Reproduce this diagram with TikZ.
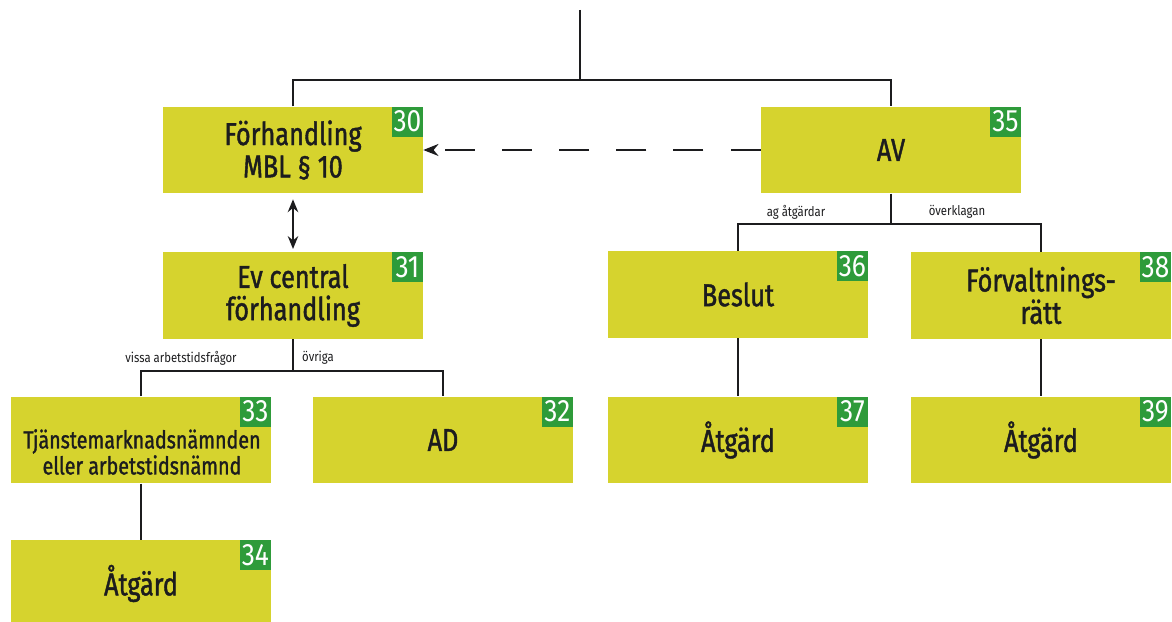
\documentclass[tikz,border=0pt]{standalone}
\usepackage{fontspec}
\setmainfont{Fira Sans}[FakeStretch=0.85]
\newfontfamily\boxfont{Fira Sans}[FakeStretch=0.8,FakeBold=1.3]
\usetikzlibrary{arrows.meta,positioning}
\definecolor{BoxYellow}{RGB}{214,211,46}
\definecolor{NrGreen}{RGB}{46,155,58}
\definecolor{InkBlack}{RGB}{28,28,30}

\begin{document}
\begin{tikzpicture}[x=0.025cm,y=-0.025cm,
    instans/.style={fill=BoxYellow,draw=none,minimum width=6.5cm,minimum height=2.17cm,
                    inner sep=2pt,align=center,text=InkBlack,
                    font=\boxfont\fontsize{22.5}{23}\selectfont},
    badge/.style={fill=NrGreen,text=white,anchor=north east,minimum width=0.78cm,
                  minimum height=0.75cm,inner sep=0pt,font=\fontsize{22}{22}\selectfont},
    gren/.style={font=\fontsize{9.5}{11}\selectfont,text=InkBlack,inner sep=1pt},
    link/.style={draw=InkBlack,line width=1.6pt}]
    \useasboundingbox (0,0) rectangle (1172,622);

    \node[instans] (forh)   at (293,150)   {Förhandling\\MBL § 10};
    \node[instans] (av)     at (891,150)   {AV};
    \node[instans] (evc)    at (293,295.5) {Ev central\\förhandling};
    \node[instans] (beslut) at (738,294.5) {Beslut};
    \node[instans] (forv)   at (1041,295.5){Förvaltnings-\\rätt};
    \node[instans] (tjm)    at (141,440)   {};
    \node[font=\boxfont\fontsize{17.5}{18.5}\selectfont,text=InkBlack,align=center,inner sep=0pt]
      (tjmtext) at (142,452) {Tjänstemarknadsnämnden\\eller arbetstidsnämnd};
    \node[instans] (ad)     at (443,440)   {AD};
    \node[instans] (atgb)   at (738,440)   {Åtgärd};
    \node[instans] (atgf)   at (1041,440)  {Åtgärd};
    \node[instans] (atgt)   at (141,583.5) {Åtgärd};

    \foreach \n/\num in {forh/30,av/35,evc/31,beslut/36,forv/38,tjm/33,ad/32,atgb/37,atgf/39,atgt/34}
      \node[badge] (nr\num) at (\n.north east) {\num};

    \coordinate (top) at (580,10);
    \coordinate (split) at (580,80);
    \draw[link] (top) -- (split);
    \draw[link] (forh.north) |- (split) -| (av.north);

    \draw[link] (av.south) -- ++(0,30) coordinate (avsplit);
    \draw[link] (beslut.north) |- (avsplit) -| (forv.north);
    \node[gren] (lag)  at (796,212) {ag åtgärdar};
    \node[gren] (lovk) at (957,212) {överklagan};

    \draw[link] (evc.south) -- ++(0,32) coordinate (evcsplit);
    \draw[link] (tjm.north) |- (evcsplit) -| (ad.north);
    \node[gren] (lvissa)  at (181,358) {vissa arbetstidsfrågor};
    \node[gren] (lovriga) at (318,358) {övriga};

    \draw[link] (beslut) -- (atgb);
    \draw[link] (forv) -- (atgf);
    \draw[link] (tjm) -- (atgt);

    \draw[link,-{Stealth[length=0.38cm,width=0.3cm]},dash pattern=on 0.75cm off 0.68cm]
      (av.west) -- (forh.east);
    \draw[link,{Stealth[length=0.32cm,width=0.26cm]}-{Stealth[length=0.32cm,width=0.26cm]},
          shorten <=4pt,shorten >=2pt] (forh.south) -- (evc.north);
\end{tikzpicture}
\end{document}
